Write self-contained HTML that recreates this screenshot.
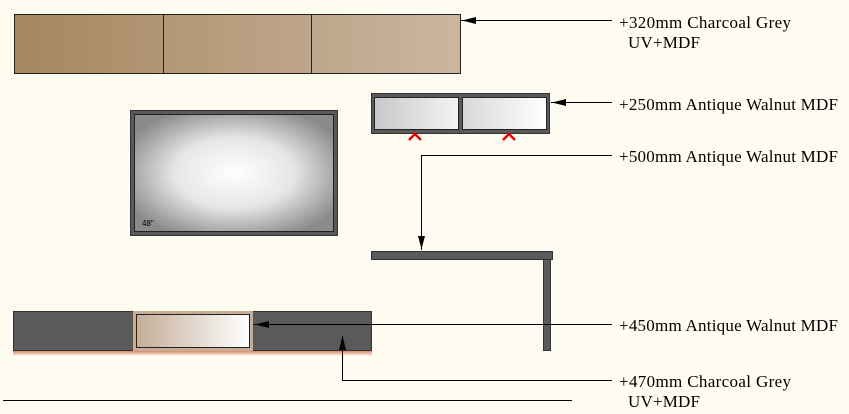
<!DOCTYPE html>
<html><head><style>body{margin:0;background:#fefbf0}svg{display:block}text{font-family:"Liberation Serif",serif;font-size:17px;fill:#000}</style></head><body>
<svg width="849" height="414" viewBox="0 0 849 414" xmlns="http://www.w3.org/2000/svg">
<defs>
<linearGradient id="wood" x1="0" x2="1"><stop offset="0" stop-color="#a6865f"/><stop offset="1" stop-color="#cbb6a0"/></linearGradient>
<linearGradient id="gl" x1="0" x2="1"><stop offset="0" stop-color="#c8c8c8"/><stop offset="1" stop-color="#f4f4f4"/></linearGradient>
<linearGradient id="gl2" x1="0" x2="1"><stop offset="0" stop-color="#d8d8d8"/><stop offset="1" stop-color="#ffffff"/></linearGradient>
<radialGradient id="tv" cx="0.5" cy="0.5" r="0.6"><stop offset="0" stop-color="#ffffff"/><stop offset="0.5" stop-color="#e6e6e6"/><stop offset="1" stop-color="#8a8a8a"/></radialGradient>
<linearGradient id="dr" x1="0" x2="1"><stop offset="0" stop-color="#c4ad98"/><stop offset="1" stop-color="#ffffff"/></linearGradient>
<linearGradient id="glow" x1="0" x2="0" y1="0" y2="1"><stop offset="0" stop-color="#d07050"/><stop offset="1" stop-color="#fefbf0"/></linearGradient>
</defs>
<rect x="14.5" y="14.5" width="446" height="59" fill="url(#wood)" stroke="#222"/>
<line x1="163.5" y1="14" x2="163.5" y2="73" stroke="#222"/><line x1="311.5" y1="14" x2="311.5" y2="73" stroke="#222"/>
<line x1="460" y1="20.5" x2="612" y2="20.5" stroke="#000"/><polygon points="462,20.5 476,17 476,24" fill="#000"/>
<text x="619" y="28" textLength="172">+320mm Charcoal Grey</text><text x="628" y="48" textLength="72">UV+MDF</text>
<rect x="371.5" y="93.5" width="178" height="40" fill="#5a5a5a" stroke="#333"/>
<rect x="374.5" y="97.5" width="84" height="32" fill="url(#gl)" stroke="#222"/>
<rect x="462.5" y="97.5" width="84" height="32" fill="url(#gl2)" stroke="#222"/>
<path d="M409,140 L415,134 L421,140 M503,140 L509,134 L515,140" stroke="#e00" stroke-width="2.5" fill="none"/>
<line x1="551" y1="102.5" x2="612" y2="102.5" stroke="#000"/><polygon points="552,102.5 566,99 566,106" fill="#000"/>
<text x="619" y="110" textLength="219">+250mm Antique Walnut MDF</text>
<polyline points="612,155.5 421.5,155.5 421.5,250" fill="none" stroke="#000"/><polygon points="421.5,249 418,236 425,236" fill="#000"/>
<text x="619" y="162" textLength="219">+500mm Antique Walnut MDF</text>
<rect x="130.5" y="110.5" width="207" height="125" fill="#5a5a5a" stroke="#333"/>
<rect x="134.5" y="114.5" width="199" height="117" fill="url(#tv)" stroke="#222"/>
<text x="142" y="226" style="font-family:'Liberation Sans',sans-serif;font-size:8px">48"</text>
<rect x="371.5" y="251.5" width="181" height="8" fill="#5a5a5a" stroke="#333"/>
<rect x="543.5" y="259.5" width="7" height="91" fill="#5a5a5a" stroke="#333"/>
<rect x="13" y="350" width="359" height="6" fill="url(#glow)"/>
<rect x="13.5" y="311.5" width="358" height="39" fill="#5a5a5a" stroke="#333"/>
<rect x="133" y="311" width="120" height="40" fill="#c8ad94"/>
<rect x="136.5" y="314.5" width="113" height="33" fill="url(#dr)" stroke="#222"/>
<line x1="253" y1="324.5" x2="612" y2="324.5" stroke="#000"/><polygon points="255,324.5 269,321 269,328" fill="#000"/>
<text x="619" y="331" textLength="219">+450mm Antique Walnut MDF</text>
<polyline points="342.5,336 342.5,380.5 612,380.5" fill="none" stroke="#000"/><polygon points="342.5,336 339,350 346,350" fill="#000"/>
<text x="619" y="387" textLength="172">+470mm Charcoal Grey</text><text x="628" y="407" textLength="72">UV+MDF</text>
<line x1="3" y1="400.5" x2="572" y2="400.5" stroke="#000"/>
</svg>
</body></html>
